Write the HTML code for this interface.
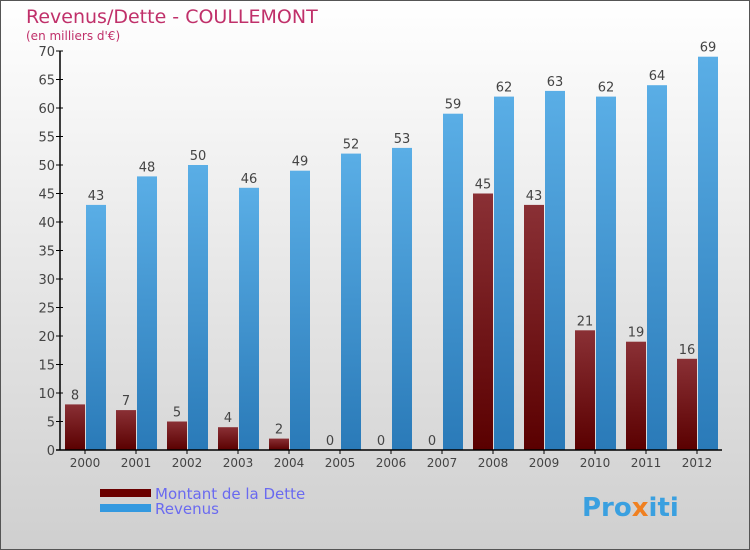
<!DOCTYPE html>
<html><head><meta charset="utf-8"><style>
body{margin:0;padding:0}
#c{width:750px;height:550px;position:relative;overflow:hidden}
text{font-family:"DejaVu Sans","Liberation Sans",sans-serif}
</style></head><body>
<div id="c">
<svg id="s" width="750" height="550" xmlns="http://www.w3.org/2000/svg">
<defs>
<linearGradient id="bg" x1="0" y1="0" x2="0" y2="1"><stop offset="0" stop-color="#ffffff"/><stop offset="1" stop-color="#cfcfcf"/></linearGradient>
<linearGradient id="gr" x1="0" y1="0" x2="0" y2="1"><stop offset="0" stop-color="#8a3035"/><stop offset="1" stop-color="#5a0000"/></linearGradient>
<linearGradient id="gb" x1="0" y1="0" x2="0" y2="1"><stop offset="0" stop-color="#5aaee6"/><stop offset="1" stop-color="#2a7ab8"/></linearGradient>
</defs>
<rect x="0.5" y="0.5" width="749" height="549" fill="url(#bg)" stroke="#555"/>
<text x="26" y="23" font-size="19" fill="#c0306a">Revenus/Dette - COULLEMONT</text>
<text x="26" y="40" font-size="12" fill="#c0306a">(en milliers d'€)</text>
<g id="plot"></g>
<rect x="100" y="489" width="51" height="8" fill="#6a0000"/>
<rect x="100" y="504" width="51" height="8" fill="#3399e0"/>
<text x="155" y="499" font-size="15" fill="#6a6af0">Montant de la Dette</text>
<text x="155" y="514" font-size="15" fill="#6a6af0">Revenus</text>
<text x="582" y="516" font-size="26" font-weight="bold" fill="#3aa0e0">Pro<tspan fill="#f08020">x</tspan>iti</text>
</svg></div>
<script>
const years=["2000","2001","2002","2003","2004","2005","2006","2007","2008","2009","2010","2011","2012"];
const dette=[8,7,5,4,2,0,0,0,45,43,21,19,16];
const revenus=[43,48,50,46,49,52,53,59,62,63,62,64,69];
const yTicks=[0,5,10,15,20,25,30,35,40,45,50,55,60,65,70];
const NS="http://www.w3.org/2000/svg";
const g=document.getElementById('plot');
const y0=450,yTop=51,yMax=70,x0=85,step=51,bw=20,axX=60;
function Y(v){return y0-(v/yMax)*(y0-yTop);}
function X(i){return x0+i*step;}
function el(t,a,p){const e=document.createElementNS(NS,t);for(const k in a)e.setAttribute(k,a[k]);(p||g).appendChild(e);return e;}
yTicks.forEach(v=>{
 const l=el('line',{x1:axX-4,x2:axX+3,y1:Y(v),y2:Y(v),stroke:'#000'});
 
 
 const t=el('text',{x:axX-5,y:Y(v)+5,'font-size':13,'text-anchor':'end',fill:'#444'});
 t.textContent=v;
 
 
});
years.forEach((yr,i)=>{
 const cx=X(i);
 const r1=el('rect',{x:cx-bw,y:Y(dette[i]),width:bw,height:y0-Y(dette[i]),fill:'url(#gr)'});
 
 
 const r2=el('rect',{x:cx+1,y:Y(revenus[i]),width:bw,height:y0-Y(revenus[i]),fill:'url(#gb)'});
 
 
 const t1=el('text',{x:cx-bw/2,y:Y(dette[i])-5,'font-size':13,'text-anchor':'middle',fill:'#444'});
 t1.textContent=dette[i];
 
 
 const t2=el('text',{x:cx+1+bw/2,y:Y(revenus[i])-5,'font-size':13,'text-anchor':'middle',fill:'#444'});
 t2.textContent=revenus[i];
 
 
 const tk=el('line',{x1:cx,x2:cx,y1:y0,y2:y0+4,stroke:'#000'});
 
 
 const xl=el('text',{x:cx,y:y0+17,'font-size':12,'text-anchor':'middle',fill:'#444'});
 xl.textContent=yr;
 
 
});
const ya=el('line',{x1:axX,x2:axX,y1:yTop,y2:y0,stroke:'#000','stroke-width':1.5});


const xa=el('line',{x1:axX-4,x2:722,y1:y0,y2:y0,stroke:'#000','stroke-width':1.5});


</script>
</body></html>
